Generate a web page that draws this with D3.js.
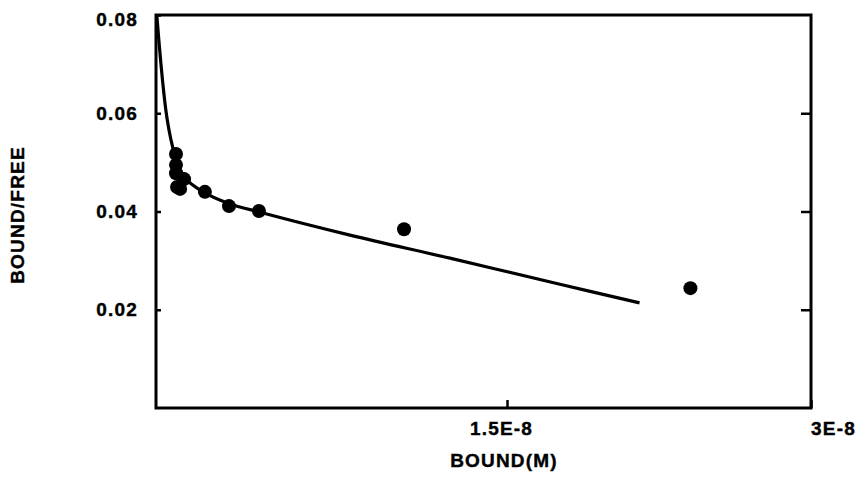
<!DOCTYPE html>
<html>
<head>
<meta charset="utf-8">
<script src="https://cdn.jsdelivr.net/npm/d3@7"></script>
<style>
  body { margin: 0; background: #fff; }
  svg text { font-family: "Liberation Sans", Arial, sans-serif; font-weight: bold; fill: #000; stroke: #000; stroke-width: 0.4px; }
</style>
</head>
<body>
<div id="chart"></div>
<script>
// Measured points (bound in M, bound/free)
const boundValues = [0.0855e-8, 0.0855e-8, 0.0855e-8, 0.120e-8, 0.090e-8, 0.103e-8, 0.209e-8, 0.312e-8, 0.440e-8, 1.060e-8, 2.405e-8];
const ratioValues = [0.0517, 0.0495, 0.0478, 0.0466, 0.0450, 0.0446, 0.0440, 0.0411, 0.0401, 0.0364, 0.0244];

// Fitted curve
const fitBound = [0.004e-8, 0.047e-8, 0.081e-8, 0.124e-8, 0.201e-8, 0.308e-8, 0.457e-8, 0.829e-8, 1.256e-8, 1.761e-8, 2.154e-8];
const fitRatio = [0.0796, 0.0590, 0.0515, 0.0468, 0.0440, 0.0417, 0.0397, 0.0352, 0.0305, 0.0252, 0.0214];

const xTicks = [1.5e-8, 3e-8];
const xTickLabels = ["1.5E-8", "3E-8"];
const yTicks = [0.02, 0.04, 0.06, 0.08];
const yTickLabels = ["0.02", "0.04", "0.06", "0.08"];

const width = 862;
const height = 482;
const plot = { left: 156, right: 811, top: 15, bottom: 408 };

const svg = d3.select("#chart")
  .append("svg")
  .attr("width", width)
  .attr("height", height);

// x axis of the original is not evenly spaced, so use a piecewise scale
const xScale = d3.scaleLinear()
  .domain([0, 1.5e-8, 3e-8])
  .range([plot.left, 507, plot.right]);

const yScale = d3.scaleLinear()
  .domain([0, 0.08])
  .range([plot.bottom, plot.top]);

// frame
svg.append("rect")
  .attr("x", plot.left)
  .attr("y", plot.top)
  .attr("width", plot.right - plot.left)
  .attr("height", plot.bottom - plot.top)
  .attr("fill", "none")
  .attr("stroke", "#000")
  .attr("stroke-width", 3);

// ticks pointing inward
const yAxisLeft = d3.axisLeft(yScale)
  .tickValues(yTicks)
  .tickSize(-5)
  .tickPadding(18)
  .tickFormat((d, i) => yTickLabels[i]);

const gLeft = svg.append("g")
  .attr("transform", `translate(${plot.left},0)`)
  .call(yAxisLeft);

gLeft.select(".domain").remove();
gLeft.selectAll("line").attr("stroke", "#000").attr("stroke-width", 2.5);
gLeft.selectAll("text")
  .attr("font-size", 19)
  .attr("letter-spacing", 1.2)
  .attr("font-family", "'Liberation Sans', Arial, sans-serif")
  .attr("font-weight", "bold")
  .attr("dy", (d) => (d === 0.08 ? "0.55em" : "0.32em"));

const yAxisRight = d3.axisRight(yScale)
  .tickValues(yTicks.filter((d) => d < 0.08))
  .tickSize(-10)
  .tickFormat("");

const gRight = svg.append("g")
  .attr("transform", `translate(${plot.right},0)`)
  .call(yAxisRight);
gRight.select(".domain").remove();
gRight.selectAll("line").attr("stroke", "#000").attr("stroke-width", 2.5);

const xAxis = d3.axisBottom(xScale)
  .tickValues(xTicks)
  .tickSize(-8)
  .tickPadding(14)
  .tickFormat((d, i) => xTickLabels[i]);

const gBottom = svg.append("g")
  .attr("transform", `translate(0,${plot.bottom})`)
  .call(xAxis);
gBottom.select(".domain").remove();
gBottom.selectAll("line").attr("stroke", "#000").attr("stroke-width", 2.5);
gBottom.selectAll("text")
  .attr("font-size", 19)
  .attr("letter-spacing", 1.2)
  .attr("font-family", "'Liberation Sans', Arial, sans-serif")
  .attr("font-weight", "bold")
  .attr("dx", (d) => (d === 3e-8 ? 22 : -6));

// fitted curve
const fit = fitBound.map((b, i) => ({ x: b, y: fitRatio[i] }));
const line = d3.line()
  .x((d) => xScale(d.x))
  .y((d) => yScale(d.y))
  .curve(d3.curveCatmullRom.alpha(0.5));

svg.append("path")
  .datum(fit)
  .attr("d", line)
  .attr("fill", "none")
  .attr("stroke", "#000")
  .attr("stroke-width", 3.2);

// data points
const points = boundValues.map((b, i) => ({ x: b, y: ratioValues[i] }));
svg.append("g")
  .selectAll("circle")
  .data(points)
  .join("circle")
  .attr("cx", (d) => xScale(d.x))
  .attr("cy", (d) => yScale(d.y))
  .attr("r", 7)
  .attr("fill", "#000");

// axis titles
svg.append("text")
  .attr("x", 504)
  .attr("y", 460)
  .attr("text-anchor", "middle")
  .attr("dominant-baseline", "central")
  .attr("font-size", 19)
  .attr("letter-spacing", 1.2)
  .text("BOUND(M)");

svg.append("text")
  .attr("transform", "translate(17,215) rotate(-90)")
  .attr("text-anchor", "middle")
  .attr("dominant-baseline", "central")
  .attr("font-size", 19)
  .attr("letter-spacing", 1.2)
  .text("BOUND/FREE");
</script>
</body>
</html>
